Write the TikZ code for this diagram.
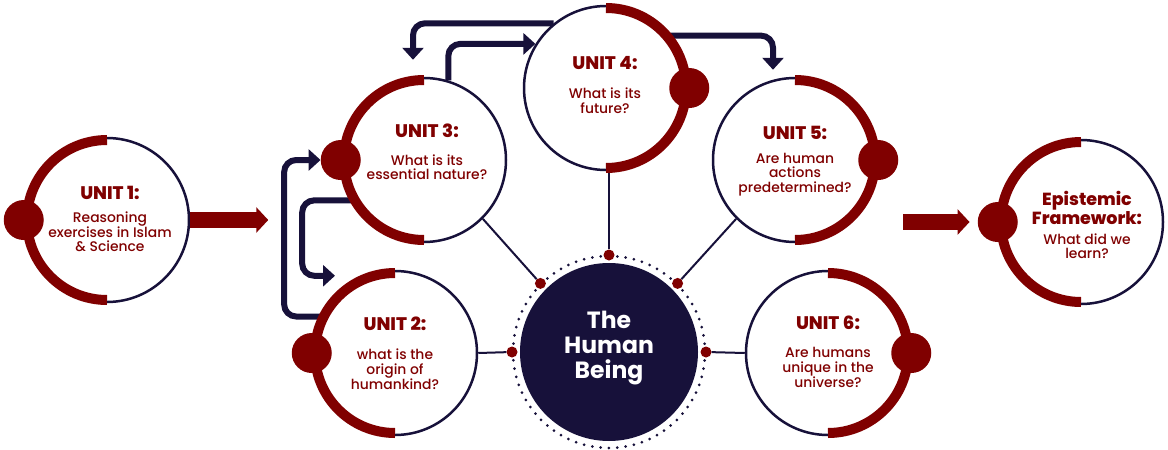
\documentclass[tikz,border=0pt]{standalone}
\usepackage{fontspec}
\setmainfont{Poppins}
\newfontfamily\medfont{Poppins Medium}
\usetikzlibrary{arrows.meta}
\definecolor{unitred}{RGB}{128,0,0}
\definecolor{navy}{RGB}{23,17,58}
\tikzset{
	unitstyle/.style={circle,draw=navy,line width=2.5pt,fill=white,minimum size=164pt,inner sep=0pt},
	arcstyle/.style={draw=unitred,line width=10pt},
	bigdot/.style={circle,fill=unitred,minimum size=40pt,inner sep=0pt},
	smalldot/.style={circle,fill=unitred,minimum size=11pt,inner sep=0pt},
	textstyle/.style={align=center,text=unitred,font=\medfont\fontsize{13.9}{14.6}\selectfont},
	spoke/.style={draw=navy,line width=2pt},
	navyarrow/.style={draw=navy,line width=6pt,rounded corners=12pt,-{Triangle[length=12pt,width=21pt]}},
	redarrow/.style={draw=unitred,line width=16pt,-{Triangle[length=12pt,width=25pt]}}
}
\newcommand{\unittitle}[1]{{\fontsize{18.2}{19.5}\selectfont\bfseries #1}}

\begin{document}
\begin{tikzpicture}[x=1pt,y=1pt]
		\useasboundingbox (0,0) rectangle (1168,-450);
		% units
		\node[unitstyle] (u1) at (107,-220) {};
		\node[unitstyle] (u2) at (395,-353) {};
		\node[unitstyle] (u3) at (424,-160) {};
		\node[unitstyle] (u4) at (606,-88) {};
		\node[unitstyle] (u5) at (795,-160) {};
		\node[unitstyle] (u6) at (828,-353) {};
		\node[unitstyle] (ep) at (1081,-222) {};
		% centre
		\node[circle,fill=navy,minimum size=178pt,inner sep=0pt] (hb) at (609,-352) {};
		\draw[navy,line width=3pt,line cap=round,dash pattern=on 0pt off 8.3776pt] (hb.center) circle[radius=96];
		\node[smalldot] (c0) at ([shift={(0:97)}]hb.center) {};
		\node[smalldot] (c45) at ([shift={(45:97)}]hb.center) {};
		\node[smalldot] (c90) at ([shift={(90:97)}]hb.center) {};
		\node[smalldot] (c135) at ([shift={(135:97)}]hb.center) {};
		\node[smalldot] (c180) at ([shift={(180:97)}]hb.center) {};
		\draw[spoke] (u3.-45)--(c135);
		\draw[spoke] (c90)--(c90 |- u4.south);
		\draw[spoke] (u5.225)--(c45);
		\draw[spoke] (u2.east)--(c180);
		\draw[spoke] (u6.west)--(c0);
		% dots on the units
		\node[bigdot] (d1) at (u1.west) {};
		\node[bigdot] (d2) at (u2.west) {};
		\node[bigdot] (d3) at (u3.west) {};
		\node[bigdot] (d4) at (u4.east) {};
		\node[bigdot] (d5) at (u5.east) {};
		\node[bigdot] (d6) at (u6.east) {};
		\node[bigdot] (de) at (ep.west) {};
		% arrows between units
		\coordinate (a2) at ([shift={(-60,-6)}]u2.north);
		\coordinate (a3) at ([shift={(-11,17)}]u3.north);
		\coordinate (a5) at ([shift={(-22,7)}]u5.north);
		\draw[navyarrow] (u2.154) -- ++(-36,0) |- (d3.west);
		\draw[navyarrow] (u3.209) -- ++(-49,0) |- (a2);
		\draw[navyarrow] (u4.129) -| (a3);
		\draw[navyarrow] (u3.73) |- (u4.148);
		\draw[navyarrow] (u4.39) -| (a5);
		\coordinate (g1) at ([xshift=78pt]u1.east);
		\coordinate (g2) at (903,-222);
		\coordinate (g3) at ([xshift=-8pt]de.west);
		\draw[redarrow] (u1.east)--(g1);
		\draw[redarrow] (g2)--(g3);
		% red arcs
		\foreach \u in {u1,u2,u3,ep}
			\draw[arcstyle] ([shift={(90:80)}]\u.center) arc[start angle=90,end angle=270,radius=80];
		\foreach \u in {u4,u5,u6}
			\draw[arcstyle] ([shift={(90:80)}]\u.center) arc[start angle=90,end angle=-90,radius=80];
		% texts
		\node[textstyle] (t1) at ([shift={(3,1)}]u1) {\unittitle{UNIT 1:}\\[9pt]Reasoning\\exercises in Islam\\\& Science};
		\node[textstyle] (t2) at ([shift={(0,0)}]u2) {\unittitle{UNIT 2:}\\[15pt]what is the\\origin of\\humankind?};
		\node[textstyle] (t3) at ([shift={(3,8)}]u3) {\unittitle{UNIT 3:}\\[13pt]What is its\\essential nature?};
		\node[textstyle] (t4) at ([shift={(-1,3)}]u4) {\unittitle{UNIT 4:}\\[15pt]What is its\\future?};
		\node[textstyle] (t5) at ([shift={(0,-1)}]u5) {\unittitle{UNIT 5:}\\[9pt]Are human\\actions\\predetermined?};
		\node[textstyle] (t6) at ([shift={(0,1.5)}]u6) {\unittitle{UNIT 6:}\\[14pt]Are humans\\unique in the\\universe?};
		\node[textstyle] (te) at ([shift={(6,-3)}]ep) {\unittitle{\fontsize{17.5}{19.5}\selectfont Epistemic}\\[1pt]\unittitle{\fontsize{17.5}{19.5}\selectfont Framework:}\\[5pt]What did we\\learn?};
		\node[align=center,text=white,font=\fontsize{23.5}{25}\selectfont\bfseries] (th) at ([shift={(0,4)}]hb) {The\\Human\\Being};
\end{tikzpicture}
\end{document}
